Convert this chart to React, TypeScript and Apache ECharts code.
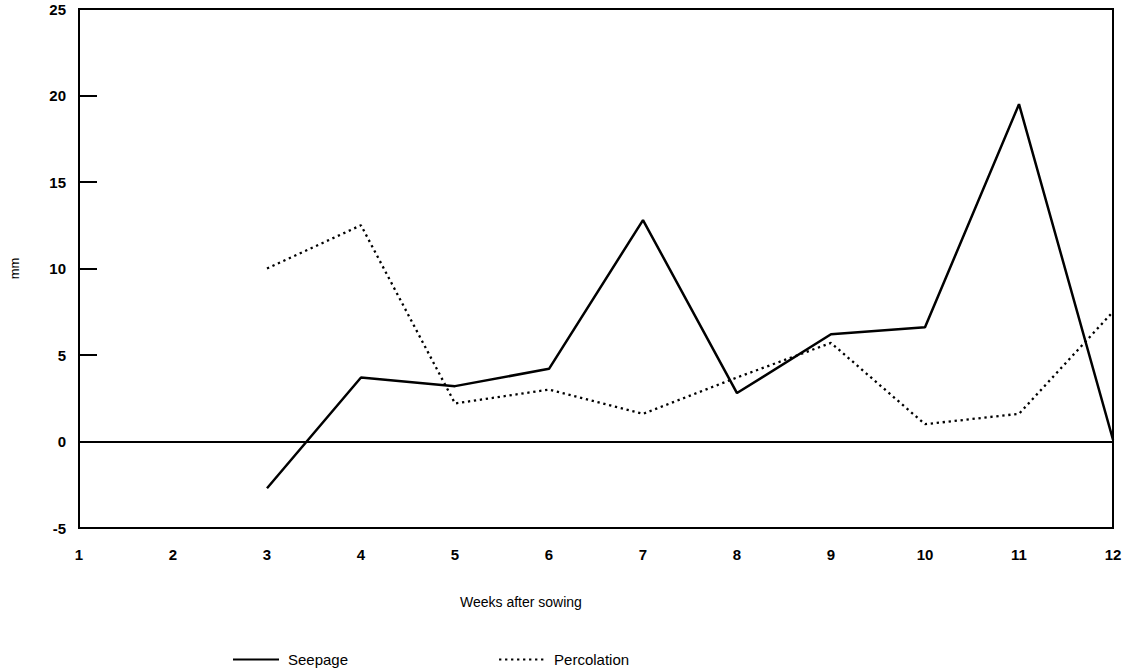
import React, { useEffect, useRef } from "react";
import * as echarts from "echarts";

const weeks = [1, 2, 3, 4, 5, 6, 7, 8, 9, 10, 11, 12];
const seepage: (number | null)[] = [null, null, -2.7, 3.7, 3.2, 4.2, 12.8, 2.8, 6.2, 6.6, 19.5, 0.1];
const percolation: (number | null)[] = [null, null, 10.0, 12.5, 2.2, 3.0, 1.6, 3.7, 5.7, 1.0, 1.6, 7.5];
const yTicks = { min: -5, max: 25, interval: 5 };
const xTitle = "Weeks after sowing";
const yTitle = "mm";

export default function App() {
  const ref = useRef<HTMLDivElement>(null);
  useEffect(() => {
    if (!ref.current) return;
    const chart = echarts.init(ref.current, undefined, { renderer: "svg" });
    const font = "Liberation Sans, Arial, sans-serif";
    chart.setOption({
      animation: false,
      backgroundColor: "#fff",
      grid: {
        left: 75,
        right: 26,
        top: 9,
        bottom: 141,
        show: true,
        borderColor: "#000",
        borderWidth: 2,
        backgroundColor: "transparent",
      },
      xAxis: {
        type: "value",
        min: 1,
        max: 12,
        interval: 1,
        axisLine: { show: true, lineStyle: { color: "#000", width: 2 } },
        axisTick: { show: false },
        splitLine: { show: false },
        axisLabel: { color: "#000", fontWeight: "bold", fontSize: 15, fontFamily: font, margin: 19 },
      },
      yAxis: {
        type: "value",
        min: yTicks.min,
        max: yTicks.max,
        interval: yTicks.interval,
        name: yTitle,
        nameLocation: "middle",
        nameGap: 58,
        nameTextStyle: { color: "#000", fontSize: 13, fontFamily: font },
        axisLine: { show: true, lineStyle: { color: "#000", width: 2 } },
        axisTick: { show: true, inside: true, length: 18, lineStyle: { color: "#000", width: 2 } },
        splitLine: { show: false },
        axisLabel: { color: "#000", fontWeight: "bold", fontSize: 15, fontFamily: font, margin: 13 },
      },
      legend: {
        left: 227,
        top: 647,
        itemGap: 150,
        itemWidth: 46,
        itemHeight: 14,
        itemStyle: { opacity: 0 },
        textStyle: { color: "#000", fontSize: 15, fontFamily: font, padding: [0, 0, 0, 4] },
        data: ["Seepage", "Percolation"],
      },
      graphic: [
        {
          type: "text",
          left: 460,
          top: 595,
          style: { text: xTitle, fill: "#000", fontSize: 14, fontFamily: font },
        },
      ],
      series: [
        {
          name: "Seepage",
          type: "line",
          symbol: "none",
          data: weeks.map((w, i) => [w, seepage[i]]),
          lineStyle: { color: "#000", width: 2.5 },
          itemStyle: { color: "#000" },
          markLine: {
            silent: true,
            symbol: "none",
            label: { show: false },
            lineStyle: { color: "#000", width: 1.5, type: "solid" },
            data: [{ yAxis: 0 }],
          },
        },
        {
          name: "Percolation",
          type: "line",
          symbol: "none",
          data: weeks.map((w, i) => [w, percolation[i]]),
          lineStyle: { color: "#000", width: 2.3, type: [2.3, 3.7] },
          itemStyle: { color: "#000" },
        },
      ],
    });
    return () => chart.dispose();
  }, []);
  return (
    <div
      ref={ref}
      style={{ position: "fixed", left: 0, top: 0, width: 1139, height: 669 }}
    />
  );
}
